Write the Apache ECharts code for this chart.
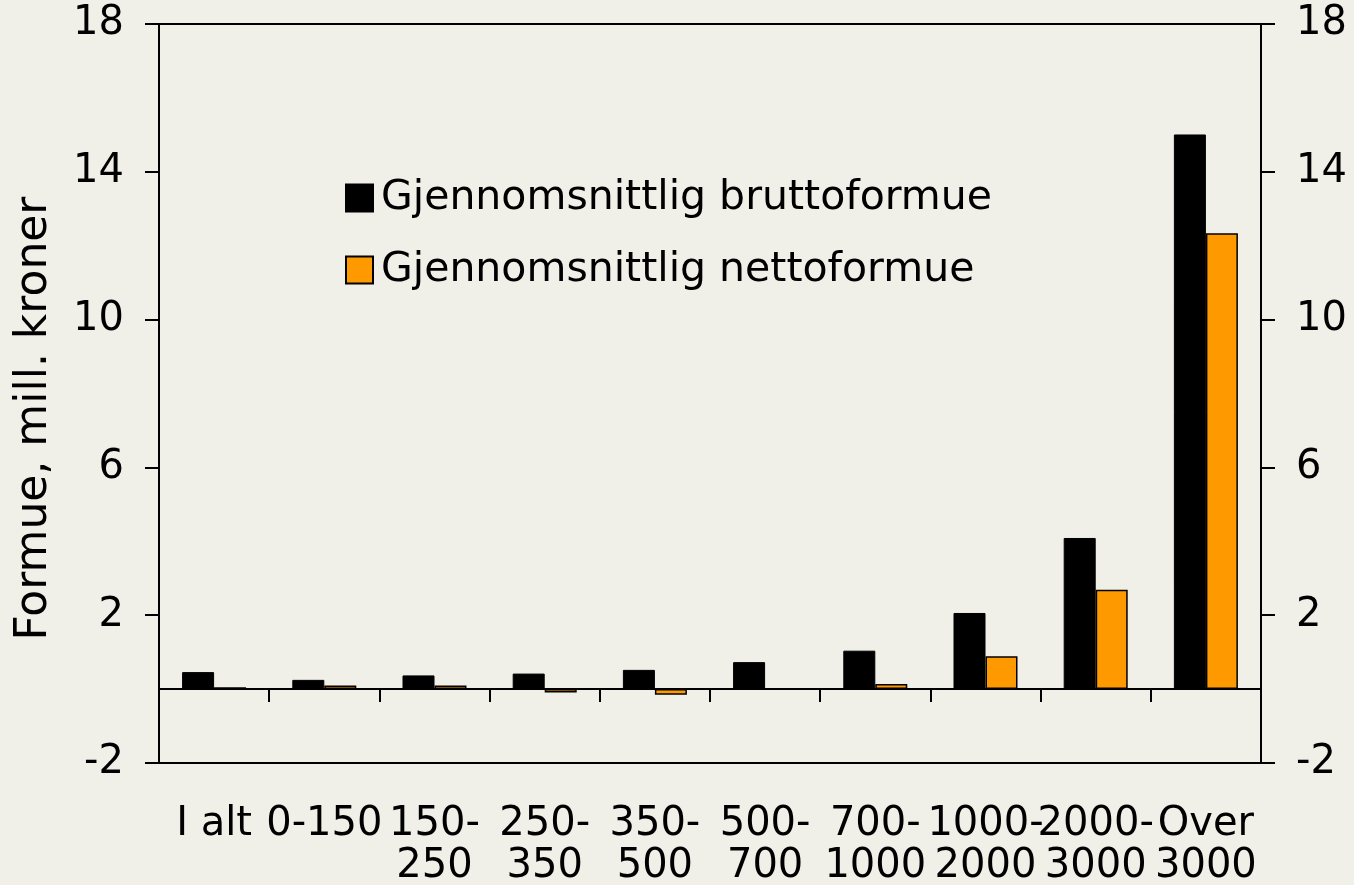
<!DOCTYPE html>
<html>
<head>
<meta charset="utf-8">
<script src="https://cdn.jsdelivr.net/npm/echarts@6/dist/echarts.min.js"></script>
<style>
	html, body { margin: 0; padding: 0; background: #f0efe8; }
	#chart { width: 1354px; height: 885px; }
</style>
</head>
<body>
<div id="chart"></div>
<script>
// kategorier (inntekt, 1000 kr)
var categories = ['I alt', '0-150', '150-\n250', '250-\n350', '350-\n500', '500-\n700', '700-\n1000', '1000-\n2000', '2000-\n3000', 'Over\n3000']
var seriesNames = ['Gjennomsnittlig bruttoformue', 'Gjennomsnittlig nettoformue']
// mill. kroner
var brutto = [0.46, 0.25, 0.37, 0.42, 0.52, 0.73, 1.04, 2.06, 4.09, 15.01]
var netto = [0.05, 0.10, 0.10, -0.09, -0.15, 0, 0.14, 0.89, 2.69, 12.34]
var yTicks = [-2, 2, 6, 10, 14, 18]

var font = 'DejaVu Sans, Verdana, sans-serif'

function yAxisOpt(pos) {
	return {
		type: 'value',
		position: pos,
		min: yTicks[0],
		max: yTicks[yTicks.length - 1],
		interval: yTicks[1] - yTicks[0],
		axisLine: { show: true, lineStyle: { color: '#000', width: 2 } },
		axisTick: { show: true, length: 14, lineStyle: { color: '#000', width: 2 } },
		axisLabel: { color: '#000', fontSize: 40, fontFamily: font, margin: 35 },
		splitLine: { show: false }
	}
}

var left = yAxisOpt('left')
left.name = 'Formue, mill. kroner'
left.nameLocation = 'middle'
left.nameGap = 102
left.nameTextStyle = { color: '#000', fontSize: 44, fontFamily: font, padding: [0, 50, 0, 0] }

var myEcharts = echarts.init(document.getElementById('chart'))
myEcharts.setOption({
	backgroundColor: '#f0efe8',
	animation: false,
	grid: {
		left: 159,
		right: 93,
		top: 24,
		bottom: 122,
		show: true,
		borderColor: '#000',
		borderWidth: 2,
		backgroundColor: 'transparent',
		outerBoundsMode: 'none'
	},
	legend: {
		orient: 'vertical',
		left: 340,
		top: 170,
		icon: 'rect',
		itemWidth: 27,
		itemHeight: 27,
		itemGap: 26,
		data: seriesNames,
		textStyle: { color: '#000', fontSize: 41, lineHeight: 46, fontFamily: font, padding: [0, 0, 0, 3] }
	},
	xAxis: [{
		type: 'category',
		data: categories,
		axisLine: { onZero: true, lineStyle: { color: '#000', width: 2 } },
		axisTick: { show: true, length: 13, lineStyle: { color: '#000', width: 2 } },
		axisLabel: { show: false }
	}, {
		type: 'category',
		data: categories,
		position: 'bottom',
		axisLine: { show: false, onZero: false },
		axisTick: { show: false },
		axisLabel: { color: '#000', fontSize: 40, lineHeight: 42, fontFamily: font, margin: 41, interval: 0 }
	}],
	yAxis: [left, yAxisOpt('right')],
	series: [{
		name: seriesNames[0],
		type: 'bar',
		xAxisIndex: 0,
		yAxisIndex: 0,
		barWidth: 32,
		barGap: '0%',
		itemStyle: { color: '#000', borderColor: '#000', borderWidth: 1 },
		data: brutto
	}, {
		name: seriesNames[1],
		type: 'bar',
		xAxisIndex: 0,
		yAxisIndex: 0,
		barWidth: 32,
		barGap: '0%',
		itemStyle: { color: '#ff9900', borderColor: '#000', borderWidth: 1.5 },
		data: netto
	}]
})
</script>
</body>
</html>
